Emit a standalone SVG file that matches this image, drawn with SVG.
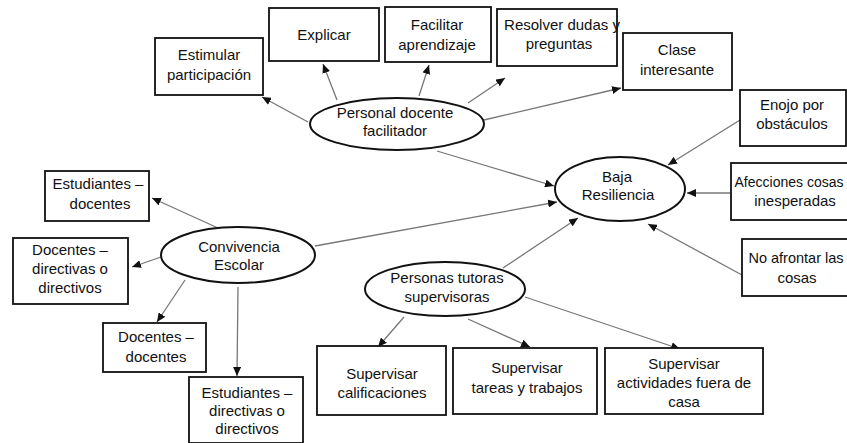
<svg xmlns="http://www.w3.org/2000/svg" width="847" height="443" viewBox="0 0 847 443">
<style>
.box{fill:#fff;stroke:#111;stroke-width:1.8}
.ell{fill:#fff;stroke:#111;stroke-width:2}
.t{font-family:"Liberation Sans",Arial,sans-serif;font-size:15px;fill:#111;text-anchor:middle}
.c{stroke:#777;stroke-width:1.3;fill:none;marker-end:url(#ah)}
</style>
<defs>
<marker id="ah" markerUnits="userSpaceOnUse" markerWidth="10" markerHeight="8" refX="9" refY="4" orient="auto">
<path d="M0,0 L9,4 L0,8 Z" fill="#111"/>
</marker>
</defs>
<rect width="847" height="443" fill="#fff"/>
<g id="connectors">
<line class="c" x1="308" y1="122" x2="262" y2="97"/>
<line class="c" x1="337" y1="100" x2="323" y2="64"/>
<line class="c" x1="419" y1="96" x2="429" y2="65"/>
<line class="c" x1="468" y1="103" x2="505" y2="78"/>
<line class="c" x1="484" y1="120" x2="621" y2="88"/>
<line class="c" x1="437" y1="151" x2="554" y2="186"/>
<line class="c" x1="315" y1="246" x2="557" y2="202"/>
<line class="c" x1="503" y1="268" x2="578" y2="218"/>
<line class="c" x1="740" y1="120" x2="668" y2="165"/>
<line class="c" x1="731" y1="193" x2="687" y2="193"/>
<line class="c" x1="742" y1="275" x2="648" y2="224"/>
<line class="c" x1="218" y1="228" x2="152" y2="198"/>
<line class="c" x1="161" y1="257" x2="132" y2="267"/>
<line class="c" x1="185" y1="280" x2="157" y2="322"/>
<line class="c" x1="238" y1="287" x2="237" y2="376"/>
<line class="c" x1="404" y1="317" x2="378" y2="347"/>
<line class="c" x1="468" y1="319" x2="530" y2="347"/>
<line class="c" x1="525" y1="297" x2="680" y2="349"/>
</g>
<g id="personal-docente">
<ellipse class="ell" cx="397" cy="124" rx="87" ry="26"/>
<text class="t" x="395" y="118">Personal docente</text>
<text class="t" x="395" y="136">facilitador</text>
</g>
<g id="estimular">
<rect class="box" x="155" y="38" width="108" height="57"/>
<text class="t" x="209" y="60">Estimular</text>
<text class="t" x="209" y="80">participación</text>
</g>
<g id="explicar">
<rect class="box" x="269" y="8" width="110" height="53"/>
<text class="t" x="324" y="40">Explicar</text>
</g>
<g id="facilitar">
<rect class="box" x="385" y="7" width="106" height="55"/>
<text class="t" x="437" y="30">Facilitar</text>
<text class="t" x="437" y="50">aprendizaje</text>
</g>
<g id="resolver">
<rect class="box" x="497" y="9" width="120" height="57"/>
<text class="t" x="562" y="30">Resolver dudas y</text>
<text class="t" x="559" y="49">preguntas</text>
</g>
<g id="clase">
<rect class="box" x="623" y="33" width="109" height="57"/>
<text class="t" x="677" y="55">Clase</text>
<text class="t" x="677" y="75">interesante</text>
</g>
<g id="enojo">
<rect class="box" x="740" y="90" width="106" height="56"/>
<text class="t" x="792" y="110">Enojo por</text>
<text class="t" x="792" y="129">obstáculos</text>
</g>
<g id="afecciones">
<rect class="box" x="731" y="163" width="120" height="57"/>
<text class="t" x="789" y="187" style="font-size:14px">Afecciones cosas</text>
<text class="t" x="795" y="206">inesperadas</text>
</g>
<g id="no-afrontar">
<rect class="box" x="742" y="239" width="110" height="57"/>
<text class="t" x="796" y="263" style="font-size:14.5px">No afrontar las</text>
<text class="t" x="797" y="283">cosas</text>
</g>
<g id="baja-resiliencia">
<ellipse class="ell" cx="620" cy="189" rx="65" ry="32"/>
<text class="t" x="617" y="182">Baja</text>
<text class="t" x="618" y="200">Resiliencia</text>
</g>
<g id="convivencia">
<ellipse class="ell" cx="238" cy="255" rx="77" ry="28"/>
<text class="t" x="239" y="252">Convivencia</text>
<text class="t" x="239" y="270">Escolar</text>
</g>
<g id="estudiantes-docentes">
<rect class="box" x="45" y="171" width="104" height="50"/>
<text class="t" x="98" y="189">Estudiantes –</text>
<text class="t" x="100" y="209">docentes</text>
</g>
<g id="docentes-directivas">
<rect class="box" x="13" y="238" width="115" height="66"/>
<text class="t" x="70" y="255">Docentes –</text>
<text class="t" x="70" y="274">directivas o</text>
<text class="t" x="70" y="293">directivos</text>
</g>
<g id="docentes-docentes">
<rect class="box" x="103" y="323" width="103" height="49"/>
<text class="t" x="156" y="342">Docentes –</text>
<text class="t" x="156" y="362">docentes</text>
</g>
<g id="estudiantes-directivas">
<rect class="box" x="189" y="377" width="114" height="66"/>
<text class="t" x="247" y="398">Estudiantes –</text>
<text class="t" x="247" y="416">directivas o</text>
<text class="t" x="247" y="434">directivos</text>
</g>
<g id="personas-tutoras">
<ellipse class="ell" cx="445" cy="289" rx="80" ry="27"/>
<text class="t" x="447" y="283">Personas tutoras</text>
<text class="t" x="447" y="302">supervisoras</text>
</g>
<g id="supervisar-calificaciones">
<rect class="box" x="317" y="346" width="129" height="69"/>
<text class="t" x="382" y="379">Supervisar</text>
<text class="t" x="382" y="398">calificaciones</text>
</g>
<g id="supervisar-tareas">
<rect class="box" x="453" y="348" width="144" height="66"/>
<text class="t" x="527" y="373">Supervisar</text>
<text class="t" x="527" y="393">tareas y trabajos</text>
</g>
<g id="supervisar-actividades">
<rect class="box" x="605" y="348" width="158" height="66"/>
<text class="t" x="684" y="369">Supervisar</text>
<text class="t" x="684" y="388">actividades fuera de</text>
<text class="t" x="684" y="407">casa</text>
</g>
</svg>
